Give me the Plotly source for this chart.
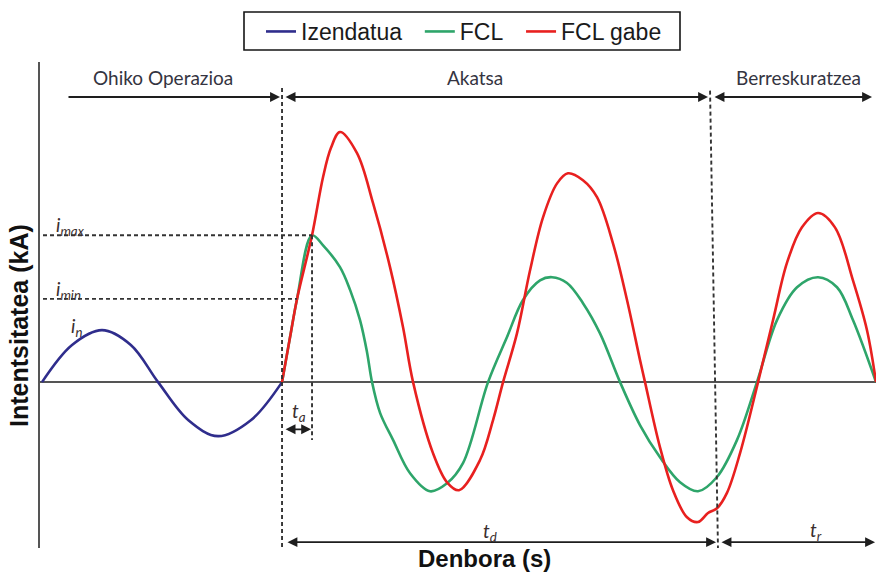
import plotly.graph_objects as go

# ---- data (time in ms, current in kA) ----
blue_t = [0.0, 2.5, 5.0, 7.4, 9.67, 12.2, 14.67, 17.4, 20.0]
blue_i = [0.0, 0.70, 0.98, 0.70, 0.0, -0.72, -1.02, -0.72, 0.0]

red_t = [20.0, 20.67, 21.25, 22.5, 23.42, 24.08, 24.83, 26.25, 27.58, 29.0, 30.08, 30.92,
         32.58, 33.75, 34.75, 36.5, 37.58, 38.42, 39.58, 40.67, 41.75, 42.92, 43.83, 45.08,
         46.25, 47.58, 48.75, 49.83, 50.25, 51.5, 52.58, 53.75, 54.67, 55.5, 56.25, 57.08,
         58.17, 59.67, 60.92, 62.08, 63.33, 64.67, 66.08, 67.58, 68.75, 69.5]
red_i = [0.0, 0.85, 1.57, 2.77, 3.87, 4.42, 4.72, 4.32, 3.38, 2.17, 1.04, 0.0,
         -1.34, -1.89, -2.04, -1.47, -0.72, 0.0, 0.92, 2.11, 3.11, 3.75, 3.94, 3.81,
         3.49, 2.62, 1.55, 0.42, 0.0, -1.23, -2.04, -2.55, -2.64, -2.47, -2.38, -2.09,
         -1.34, 0.0, 1.17, 2.25, 2.92, 3.19, 2.92, 1.92, 0.98, 0.0]

green_t = [20.0, 20.67, 21.25, 22.5, 23.42, 24.83, 25.67, 26.5, 27.08, 27.5, 28.17, 29.25,
           30.67, 32.33, 33.75, 35.08, 37.17, 38.75, 40.08, 41.5, 42.5, 43.75, 45.08, 46.5,
           48.17, 49.83, 51.5, 53.17, 54.67, 56.25, 57.92, 59.58, 61.25, 62.92, 64.67, 66.25,
           67.58, 69.5]
green_i = [0.0, 0.85, 1.57, 2.77, 2.58, 2.17, 1.74, 1.17, 0.57, 0.0, -0.58, -1.09,
           -1.72, -2.06, -1.91, -1.53, 0.0, 0.85, 1.55, 1.92, 1.98, 1.87, 1.49, 0.92,
           0.0, -0.81, -1.42, -1.89, -2.06, -1.79, -1.09, 0.0, 1.17, 1.79, 1.98, 1.79,
           1.17, 0.0]

series_names = ["Izendatua", "FCL", "FCL gabe"]
phase_labels = ["Ohiko Operazioa", "Akatsa", "Berreskuratzea"]

# key instants / levels (ms, kA)
t_fault = 20.0
t_limit = 22.5
i_max = 2.77
i_min = 1.57
t_rec_top, t_rec_bot = 55.67, 56.33

X_RANGE = [-0.17, 69.5]
Y_RANGE = [-3.13, 6.04]

W, H = 876, 574
ML, MR, MT, MB = 40, 0, 62, 26
pw, ph = W - ML - MR, H - MT - MB
def px_x(v):
    return (v - ML) / pw
def px_y(v):
    return (H - MB - v) / ph

fig = go.Figure()
pad = "\u00a0\u00a0"
fig.add_trace(go.Scatter(x=blue_t, y=blue_i, name=series_names[0] + pad, mode="lines",
                         line=dict(color="#2f2d8c", width=2.6, shape="spline")))
fig.add_trace(go.Scatter(x=green_t, y=green_i, name=series_names[1] + pad, mode="lines",
                         line=dict(color="#2ea56a", width=2.6, shape="spline")))
fig.add_trace(go.Scatter(x=red_t, y=red_i, name=series_names[2], mode="lines",
                         line=dict(color="#e8201f", width=2.6, shape="spline")))

dash = dict(color="#333333", width=1.9, dash="4px,3px")
shapes = [
    dict(type="line", xref="x", yref="y", x0=t_fault, x1=t_fault, y0=5.55, y1=Y_RANGE[0], line=dash),
    dict(type="line", xref="x", yref="y", x0=t_limit, x1=t_limit, y0=i_max, y1=-1.09, line=dash),
    dict(type="line", xref="x", yref="y", x0=t_rec_top, x1=t_rec_bot, y0=5.5, y1=Y_RANGE[0], line=dash),
    dict(type="line", xref="x", yref="y", x0=0.08, x1=t_limit, y0=i_max, y1=i_max, line=dash),
    dict(type="line", xref="x", yref="y", x0=0.08, x1=21.25, y0=i_min, y1=i_min, line=dash),
    # legend frame
    dict(type="rect", xref="paper", yref="paper", x0=px_x(244), x1=px_x(680), y0=px_y(50), y1=px_y(12),
         line=dict(color="#151515", width=1.6), fillcolor="white", layer="below"),
]

ann = []
def arrow(x_head, x_tail, y, both=True):
    ann.append(dict(x=x_head, y=y, ax=x_tail, ay=y, xref="x", yref="y", axref="x", ayref="y",
                    text="", showarrow=True, arrowhead=2, arrowsize=1.1, arrowwidth=1.8,
                    arrowcolor="#1e1e1e", arrowside="end+start" if both else "end",
                    standoff=0, startstandoff=0))

y_top = 5.38
arrow(19.83, 2.08, y_top, both=False)
arrow(55.5, 20.17, y_top)
arrow(69.17, 55.92, y_top)
y_bot = -3.02
arrow(56.17, 20.33, y_bot)
arrow(69.42, 56.5, y_bot)
arrow(22.42, 20.17, -0.89)

lab_font = dict(family="Lato, Open Sans, sans-serif", size=19, color="#343441")
for txt, tx in zip(phase_labels, [10.08, 36.08, 63.0]):
    ann.append(dict(x=tx, y=5.74, xref="x", yref="y", text=txt, showarrow=False, font=lab_font))

sym_font = dict(family="Lato, sans-serif", size=19, color="#3a2e2e")
for txt, tx, ty in [("<i>i<sub>max</sub></i>", 2.33, 2.94), ("<i>i<sub>min</sub></i>", 2.17, 1.74),
                    ("<i>i<sub>n</sub></i>", 2.83, 1.04), ("<i>t<sub>a</sub></i>", 21.42, -0.57),
                    ("<i>t<sub>d</sub></i>", 37.33, -2.83), ("<i>t<sub>r</sub></i>", 64.5, -2.81)]:
    ann.append(dict(x=tx, y=ty, xref="x", yref="y", text=txt, showarrow=False, font=sym_font))

ann.append(dict(x=px_x(484), y=px_y(558), xref="paper", yref="paper", text="<b>Denbora (s)</b>",
                xanchor="center", yanchor="middle", showarrow=False,
                font=dict(family="Liberation Sans, Arial, sans-serif", size=24, color="#111111")))
ann.append(dict(x=px_x(19), y=px_y(326), xref="paper", yref="paper", text="<b>Intentsitatea (kA)</b>",
                xanchor="center", yanchor="middle", showarrow=False, textangle=-90,
                font=dict(family="Liberation Sans, Arial, sans-serif", size=25, color="#111111")))

fig.update_layout(
    width=W, height=H,
    margin=dict(l=ML, r=MR, t=MT, b=MB),
    paper_bgcolor="white", plot_bgcolor="white",
    showlegend=True,
    legend=dict(orientation="h", x=px_x(261), xanchor="left", y=px_y(10), yanchor="top",
                borderwidth=0, bgcolor="rgba(255,255,255,0)",
                font=dict(family="Liberation Sans, Arial, sans-serif", size=23, color="#1a1a1a")),
    xaxis=dict(range=X_RANGE, showgrid=False, zeroline=False, showticklabels=False, ticks="",
               showline=False, fixedrange=True),
    yaxis=dict(range=Y_RANGE, showgrid=False, zeroline=True, zerolinecolor="#555555", zerolinewidth=2,
               showticklabels=False, ticks="", showline=True, linecolor="#555555", linewidth=2,
               fixedrange=True),
    shapes=shapes,
    annotations=ann,
)

fig.write_html("out.html", config={"displayModeBar": False},
               post_script="document.body.style.margin='0px';document.body.style.overflow='hidden';")
